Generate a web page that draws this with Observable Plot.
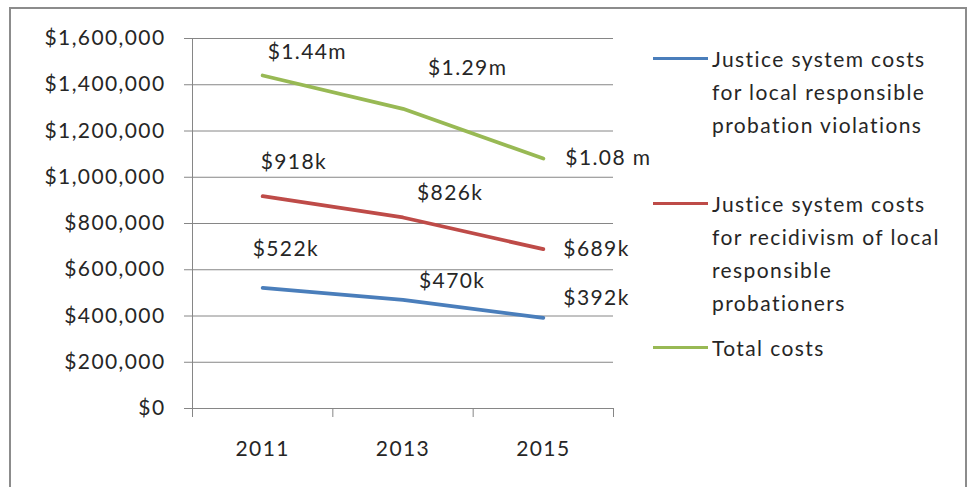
<!DOCTYPE html>
<html><head><meta charset="utf-8">
<script src="https://cdn.jsdelivr.net/npm/d3@7"></script>
<script src="https://cdn.jsdelivr.net/npm/@observablehq/plot@0.6"></script>
<style>
body{margin:0;background:#fff;font-family:Lato,"Liberation Sans",sans-serif;color:#262626;}
#wrap{position:relative;width:972px;height:487px;overflow:hidden;}
#frame{position:absolute;left:9px;top:7px;width:958px;height:500px;border:2px solid #8c8c8c;box-sizing:border-box;}
#chart{position:absolute;left:0;top:0;}
.sw{position:absolute;left:653px;width:55px;height:3px;}
.lt{position:absolute;left:712px;font-size:21px;line-height:33px;white-space:nowrap;letter-spacing:1.4px;}
</style></head>
<body>
<div id="wrap"><div id="frame"></div><div id="chart"></div></div>
<script>
// ---- data ----
const years = [2011, 2013, 2015];
const seriesNames = [
  "Justice system costs for local responsible probation violations",
  "Justice system costs for recidivism of local responsible probationers",
  "Total costs"
];
const legendLines = [
  ["Justice system costs", "for local responsible", "probation violations"],
  ["Justice system costs", "for recidivism of local", "responsible", "probationers"],
  ["Total costs"]
];
const violations = [522000, 470000, 392000];
const recidivism = [918000, 826000, 689000];
const total = [1440000, 1296000, 1081000];
const violationsLabels = ["$522k", "$470k", "$392k"];
const recidivismLabels = ["$918k", "$826k", "$689k"];
const totalLabels = ["$1.44m", "$1.29m", "$1.08 m"];
const yTicks = [0, 200000, 400000, 600000, 800000, 1000000, 1200000, 1400000, 1600000];
const categoryEdges = [2010, 2012, 2014, 2016];

// ---- styling / layout ----
const colors = ["#4A7EBB", "#BE4B48", "#98B954"];
const labelOffsets = [
  [[-10, -39], [16, -19], [20, -20]],
  [[-2, -34], [14, -24], [20, 0]],
  [[5, -23], [25, -41], [22, 0]]
];
const legendY = [58, 203, 347];

const seriesValues = [violations, recidivism, total];
const seriesLabels = [violationsLabels, recidivismLabels, totalLabels];
const rows = [];
seriesValues.forEach((vals, s) => vals.forEach((v, i) =>
  rows.push({series: seriesNames[s], s, year: years[i], value: v, label: seriesLabels[s][i],
             dx: labelOffsets[s][i][0], dy: labelOffsets[s][i][1]})));

const grid = "#868686";
const marks = [
  Plot.gridY(yTicks, {stroke: grid, strokeOpacity: 1, strokeWidth: 1}),
  Plot.ruleX([categoryEdges[0]], {stroke: grid, strokeWidth: 1}),
  Plot.axisY(yTicks, {tickSize: 8, tickPadding: 19, stroke: grid, fill: "#262626", label: null,
    tickFormat: d => "$" + d3.format(",")(d)}),
  Plot.axisX(categoryEdges, {tickSize: 9, stroke: grid, tickFormat: () => "", label: null}),
  Plot.axisX(years, {tickSize: 0, tickPadding: 33, fill: "#262626", label: null, tickFormat: d => String(d)})
];
seriesNames.forEach((name, s) => {
  marks.push(Plot.line(rows.filter(r => r.s === s), {x: "year", y: "value",
    stroke: colors[s], strokeWidth: 3.8, strokeLinecap: "round", strokeLinejoin: "round"}));
});
rows.forEach(r => marks.push(Plot.text([r], {x: "year", y: "value", text: "label",
  dx: r.dx, dy: r.dy, textAnchor: "start", fill: "#262626", fontSize: 21})));

const chart = Plot.plot({
  width: 972, height: 487,
  marginLeft: 192, marginRight: 359, marginTop: 38, marginBottom: 79,
  x: {type: "linear", domain: [2010, 2016], label: null},
  y: {domain: [0, 1600000], label: null},
  style: {fontFamily: "Lato, 'Liberation Sans', sans-serif", fontSize: "21px", background: "transparent", color: "#262626", letterSpacing: "1.4px"},
  marks
});
document.getElementById("chart").appendChild(chart);

const wrap = document.getElementById("wrap");
legendLines.forEach((lines, s) => {
  const sw = document.createElement("div");
  sw.className = "sw";
  sw.style.background = colors[s];
  sw.style.top = (legendY[s] - 1.5) + "px";
  wrap.appendChild(sw);
  const t = document.createElement("div");
  t.className = "lt";
  t.style.top = (legendY[s] - 16.5) + "px";
  t.innerHTML = lines.join("<br>");
  wrap.appendChild(t);
});
</script>
</body></html>
